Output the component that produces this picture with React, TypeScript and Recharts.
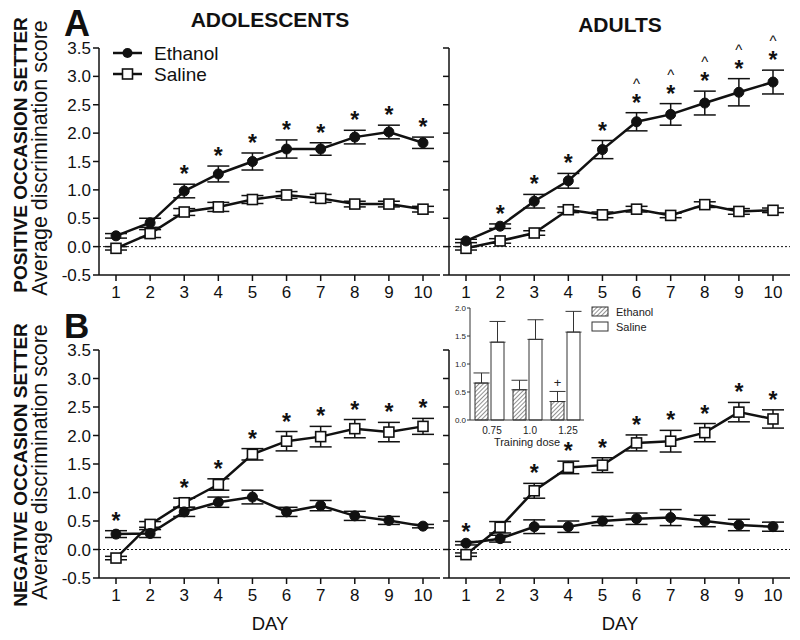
import React from 'react'
import {
  LineChart,
  Line,
  XAxis,
  YAxis,
  ErrorBar,
  ReferenceLine,
  LabelList,
  BarChart,
  Bar,
} from 'recharts'

const FONT = '"Liberation Sans", Arial, sans-serif'
const INK = '#111'

const days = ['1', '2', '3', '4', '5', '6', '7', '8', '9', '10']
const yTicks = [-0.5, 0, 0.5, 1, 1.5, 2, 2.5, 3, 3.5]

// A: positive occasion setter
const adolPosEth = [0.19, 0.42, 0.98, 1.28, 1.5, 1.72, 1.72, 1.93, 2.02, 1.83]
const adolPosEthErr = [0.04, 0.08, 0.12, 0.14, 0.15, 0.16, 0.11, 0.12, 0.12, 0.1]
const adolPosSal = [-0.03, 0.23, 0.61, 0.7, 0.83, 0.91, 0.85, 0.75, 0.75, 0.66]
const adolPosSalErr = [0.03, 0.07, 0.06, 0.08, 0.07, 0.06, 0.07, 0.05, 0.05, 0.05]
const adolPosStars = ['', '', '*', '*', '*', '*', '*', '*', '*', '*']
const adolPosCarets = ['', '', '', '', '', '', '', '', '', '']

const adultPosEth = [0.1, 0.36, 0.8, 1.16, 1.71, 2.2, 2.33, 2.53, 2.72, 2.9]
const adultPosEthErr = [0.03, 0.04, 0.12, 0.13, 0.16, 0.16, 0.19, 0.21, 0.24, 0.21]
const adultPosSal = [-0.03, 0.1, 0.24, 0.65, 0.56, 0.66, 0.55, 0.74, 0.62, 0.64]
const adultPosSalErr = [0.03, 0.04, 0.04, 0.05, 0.05, 0.05, 0.04, 0.05, 0.05, 0.04]
const adultPosStars = ['', '*', '*', '*', '*', '*', '*', '*', '*', '*']
const adultPosCarets = ['', '', '', '', '', '^', '^', '^', '^', '^']

// B: negative occasion setter
const adolNegEth = [0.27, 0.28, 0.66, 0.83, 0.92, 0.66, 0.77, 0.59, 0.51, 0.41]
const adolNegEthErr = [0.06, 0.07, 0.08, 0.09, 0.12, 0.08, 0.09, 0.08, 0.07, 0.03]
const adolNegSal = [-0.15, 0.44, 0.82, 1.14, 1.67, 1.9, 1.98, 2.12, 2.06, 2.16]
const adolNegSalErr = [0.03, 0.05, 0.08, 0.1, 0.1, 0.17, 0.18, 0.16, 0.17, 0.14]
const adolNegStars = ['*', '', '*', '*', '*', '*', '*', '*', '*', '*']
const adolNegCarets = ['', '', '', '', '', '', '', '', '', '']

const adultNegEth = [0.11, 0.19, 0.4, 0.4, 0.5, 0.54, 0.56, 0.5, 0.43, 0.4]
const adultNegEthErr = [0.03, 0.06, 0.12, 0.1, 0.08, 0.1, 0.14, 0.1, 0.1, 0.08]
const adultNegSal = [-0.09, 0.39, 1.03, 1.44, 1.48, 1.87, 1.9, 2.05, 2.41, 2.29]
const adultNegSalErr = [0.03, 0.1, 0.13, 0.11, 0.13, 0.14, 0.19, 0.16, 0.17, 0.16]
const adultNegStars = ['*', '', '*', '*', '*', '*', '*', '*', '*', '*']
const adultNegCarets = ['', '', '', '', '', '', '', '', '', '']

// inset: test by training dose
const doses = ['0.75', '1.0', '1.25']
const insetEth = [0.66, 0.54, 0.33]
const insetEthErr = [0.18, 0.17, 0.18]
const insetSal = [1.39, 1.44, 1.57]
const insetSalErr = [0.37, 0.35, 0.37]
const insetMarks = ['', '', '+']

function buildRows(
  eth: number[],
  ethErr: number[],
  sal: number[],
  salErr: number[],
  stars: string[],
  carets: string[]
) {
  return days.map((day, i) => ({
    day,
    eth: eth[i],
    ethErr: ethErr[i],
    sal: sal[i],
    salErr: salErr[i],
    top: Math.max(eth[i] + ethErr[i], sal[i] + salErr[i]),
    star: stars[i],
    caret: carets[i],
  }))
}

const insetRows = doses.map((dose, i) => ({
  dose,
  eth: insetEth[i],
  ethErr: [0, insetEthErr[i]],
  sal: insetSal[i],
  salErr: [0, insetSalErr[i]],
  mark: insetMarks[i],
}))

const renderStar = (props: any) => {
  const { x, y, value } = props
  if (!value) return null
  return (
    <text x={x} y={y - 2} textAnchor="middle" fontSize={23} fontWeight="bold" fontFamily={FONT} fill={INK}>
      {value}
    </text>
  )
}

const renderCaret = (props: any) => {
  const { x, y, value } = props
  if (!value) return null
  return (
    <text x={x} y={y - 24} textAnchor="middle" fontSize={15} fontFamily={FONT} fill={INK}>
      {value}
    </text>
  )
}

const squareDot = (props: any) => {
  const { cx, cy, index } = props
  return (
    <rect key={`sq-${index}`} x={cx - 5} y={cy - 5} width={10} height={10} fill="#fff" stroke={INK} strokeWidth={1.6} />
  )
}

interface PanelProps {
  rows: ReturnType<typeof buildRows>
  left: number
  top: number
  width: number
  height: number
  margin: { top: number; right: number; bottom: number; left: number }
  yWidth: number
  xHeight: number
  showYLabels: boolean
}

function Panel({ rows, left, top, width, height, margin, yWidth, xHeight, showYLabels }: PanelProps) {
  const axisStyle = { stroke: INK, strokeWidth: 1.5 }
  return (
    <div style={{ position: 'absolute', left, top }}>
      <LineChart width={width} height={height} data={rows} margin={margin}>
        <XAxis
          dataKey="day"
          type="category"
          padding={{ left: 17, right: 17 }}
          axisLine={axisStyle}
          tickLine={axisStyle}
          tickSize={6}
          tickMargin={5}
          height={xHeight}
          interval={0}
          tick={{ fontSize: 17, fill: INK, fontFamily: FONT }}
        />
        <YAxis
          domain={[-0.5, 3.5]}
          ticks={yTicks}
          width={yWidth}
          axisLine={axisStyle}
          tickLine={axisStyle}
          tickSize={6}
          tickMargin={2}
          interval={0}
          tick={{ fontSize: 17, fill: INK, fontFamily: FONT }}
          tickFormatter={(v: number) => (showYLabels ? v.toFixed(1) : '')}
        />
        <ReferenceLine y={0} stroke={INK} strokeWidth={1} strokeDasharray="2 2" />
        <Line
          dataKey="sal"
          stroke={INK}
          strokeWidth={2.5}
          dot={squareDot}
          activeDot={false}
          isAnimationActive={false}
        >
          <ErrorBar dataKey="salErr" direction="y" width={11} stroke={INK} strokeWidth={1.5} />
        </Line>
        <Line
          dataKey="eth"
          stroke={INK}
          strokeWidth={2.5}
          dot={{ r: 5, fill: INK, stroke: INK, strokeWidth: 1 }}
          activeDot={false}
          isAnimationActive={false}
        >
          <ErrorBar dataKey="ethErr" direction="y" width={11} stroke={INK} strokeWidth={1.5} />
        </Line>
        <Line
          dataKey="top"
          stroke="none"
          dot={false}
          activeDot={false}
          legendType="none"
          isAnimationActive={false}
        >
          <LabelList dataKey="star" content={renderStar} />
          <LabelList dataKey="caret" content={renderCaret} />
        </Line>
      </LineChart>
    </div>
  )
}

function Inset() {
  const axisStyle = { stroke: '#333', strokeWidth: 1 }
  const renderPlus = (props: any) => {
    const { x, y, width, height, index } = props
    if (!insetMarks[index]) return null
    const perUnit = height / insetEth[index]
    const errTop = y - insetEthErr[index] * perUnit
    return (
      <text x={x + width / 2} y={errTop - 4} textAnchor="middle" fontSize={13} fontFamily={FONT} fill="#222">
        {insetMarks[index]}
      </text>
    )
  }
  return (
    <div style={{ position: 'absolute', left: 440, top: 295 }}>
      <BarChart
        width={220}
        height={160}
        data={insetRows}
        margin={{ top: 13, right: 76, bottom: 0, left: 8 }}
        barSize={13}
        barGap={3}
      >
        <defs>
          <pattern id="hatchBar" patternUnits="userSpaceOnUse" width={3} height={3} patternTransform="rotate(45)">
            <rect width={3} height={3} fill="#fff" />
            <line x1={0} y1={0} x2={0} y2={3} stroke="#555" strokeWidth={1.3} />
          </pattern>
        </defs>
        <XAxis
          dataKey="dose"
          axisLine={axisStyle}
          tickLine={false}
          tickSize={4}
          tickMargin={3}
          height={35}
          tick={{ fontSize: 10, fill: '#222', fontFamily: FONT, dx: 3 }}
          label={{ value: 'Training dose', position: 'insideBottom', offset: 9, fontSize: 11, fill: '#222', fontFamily: FONT }}
        />
        <YAxis
          domain={[0, 2]}
          ticks={[0, 0.5, 1, 1.5, 2]}
          width={22}
          axisLine={axisStyle}
          tickLine={axisStyle}
          tickSize={3}
          tickMargin={1}
          interval={0}
          tick={{ fontSize: 8, fill: '#222', fontFamily: FONT }}
          tickFormatter={(v: number) => v.toFixed(1)}
        />
        <Bar dataKey="eth" fill="url(#hatchBar)" stroke="#333" strokeWidth={1} isAnimationActive={false}>
          <ErrorBar dataKey="ethErr" direction="y" width={8} stroke="#333" strokeWidth={1} />
          <LabelList dataKey="mark" content={renderPlus} />
        </Bar>
        <Bar dataKey="sal" fill="#fff" stroke="#333" strokeWidth={1} isAnimationActive={false}>
          <ErrorBar dataKey="salErr" direction="y" width={8} stroke="#333" strokeWidth={1} />
        </Bar>
      </BarChart>
    </div>
  )
}

function Overlay() {
  const t = { fontFamily: FONT, fill: INK }
  return (
    <svg width={800} height={640} style={{ position: 'absolute', left: 0, top: 0, pointerEvents: 'none' }}>
      <defs>
        <pattern id="hatchKey" patternUnits="userSpaceOnUse" width={3} height={3} patternTransform="rotate(45)">
          <rect width={3} height={3} fill="#fff" />
          <line x1={0} y1={0} x2={0} y2={3} stroke="#555" strokeWidth={1.3} />
        </pattern>
      </defs>
      <text x={64} y={36} fontSize={36} fontWeight="bold" {...t}>A</text>
      <text x={64} y={338} fontSize={35} fontWeight="bold" {...t}>B</text>
      <text x={270} y={27} fontSize={21} fontWeight="bold" textAnchor="middle" {...t}>ADOLESCENTS</text>
      <text x={620} y={32} fontSize={21} fontWeight="bold" textAnchor="middle" {...t}>ADULTS</text>

      <text transform="translate(27,155) rotate(-90)" fontSize={19} fontWeight="bold" textAnchor="middle" {...t}>
        POSITIVE OCCASION SETTER
      </text>
      <text transform="translate(47,158) rotate(-90)" fontSize={21.5} textAnchor="middle" {...t}>
        Average discrimination score
      </text>
      <text transform="translate(27,465) rotate(-90)" fontSize={19} fontWeight="bold" textAnchor="middle" {...t}>
        NEGATIVE OCCASION SETTER
      </text>
      <text transform="translate(47,462) rotate(-90)" fontSize={21.5} textAnchor="middle" {...t}>
        Average discrimination score
      </text>

      <text x={270} y={630} fontSize={18.5} textAnchor="middle" {...t}>DAY</text>
      <text x={620} y={630} fontSize={18.5} textAnchor="middle" {...t}>DAY</text>

      {/* main legend */}
      <line x1={113} y1={53} x2={142} y2={53} stroke={INK} strokeWidth={2.5} />
      <circle cx={127.5} cy={53} r={5} fill={INK} />
      <text x={154} y={60} fontSize={19} {...t}>Ethanol</text>
      <line x1={113} y1={74} x2={142} y2={74} stroke={INK} strokeWidth={2.5} />
      <rect x={122.5} y={69} width={10} height={10} fill="#fff" stroke={INK} strokeWidth={1.6} />
      <text x={154} y={81} fontSize={19} {...t}>Saline</text>

      {/* inset legend */}
      <rect x={592} y={307} width={16} height={9} fill="url(#hatchKey)" stroke="#333" strokeWidth={1} />
      <text x={616} y={316} fontSize={11} fill="#222" fontFamily={FONT}>Ethanol</text>
      <rect x={592} y={322} width={16} height={9} fill="#fff" stroke="#333" strokeWidth={1} />
      <text x={616} y={331} fontSize={11} fill="#222" fontFamily={FONT}>Saline</text>
    </svg>
  )
}

export default function App() {
  const adolPos = buildRows(adolPosEth, adolPosEthErr, adolPosSal, adolPosSalErr, adolPosStars, adolPosCarets)
  const adultPos = buildRows(adultPosEth, adultPosEthErr, adultPosSal, adultPosSalErr, adultPosStars, adultPosCarets)
  const adolNeg = buildRows(adolNegEth, adolNegEthErr, adolNegSal, adolNegSalErr, adolNegStars, adolNegCarets)
  const adultNeg = buildRows(adultNegEth, adultNegEthErr, adultNegSal, adultNegSalErr, adultNegStars, adultNegCarets)

  return (
    <div style={{ position: 'absolute', left: 0, top: 0, width: 800, height: 640, background: '#fff', overflow: 'hidden' }}>
      <Panel
        rows={adolPos}
        left={0}
        top={0}
        width={445}
        height={306}
        margin={{ top: 48, right: 5, bottom: 0, left: 54 }}
        yWidth={45}
        xHeight={31}
        showYLabels
      />
      <Panel
        rows={adultPos}
        left={400}
        top={0}
        width={400}
        height={306}
        margin={{ top: 48, right: 10, bottom: 0, left: 48 }}
        yWidth={1}
        xHeight={31}
        showYLabels={false}
      />
      <Panel
        rows={adolNeg}
        left={0}
        top={300}
        width={445}
        height={340}
        margin={{ top: 50, right: 5, bottom: 0, left: 54 }}
        yWidth={45}
        xHeight={62}
        showYLabels
      />
      <Panel
        rows={adultNeg}
        left={400}
        top={300}
        width={400}
        height={340}
        margin={{ top: 50, right: 10, bottom: 0, left: 48 }}
        yWidth={1}
        xHeight={62}
        showYLabels={false}
      />
      <Inset />
      <Overlay />
    </div>
  )
}
